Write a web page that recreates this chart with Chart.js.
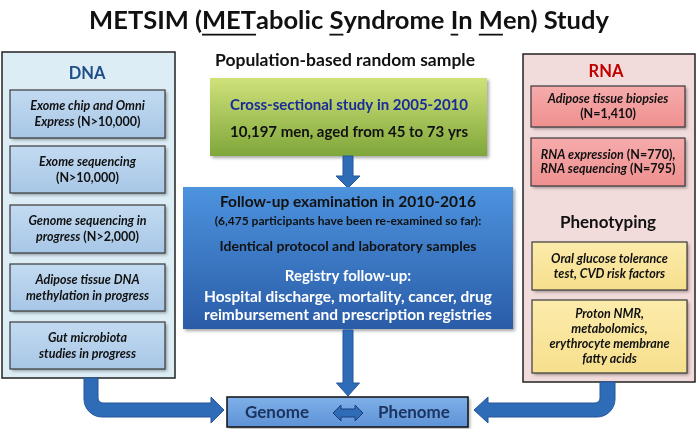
<!DOCTYPE html>
<html><head><meta charset="UTF-8">
<title>METSIM Study</title>
<script src="https://cdn.jsdelivr.net/npm/chart.js"></script>
<style>body{margin:0;background:#fff}canvas{display:block}</style>
</head><body>
<canvas id="c" width="697" height="429"></canvas>
<script>
// texts of the diagram (runs: [text, 'i' = bold italic, 'b' = bold, 'u' = underlined])
const title = [['METSIM (', 'b'], ['MET', 'u'], ['abolic ', 'b'], ['S', 'u'], ['yndrome ', 'b'], ['I', 'u'], ['n ', 'b'], ['M', 'u'], ['en) Study', 'b']];
const dnaHeading = 'DNA';
const dnaItems = [
  [[['Exome chip and Omni', 'i']], [['Express', 'i'], [' (N>10,000)', 'b']]],
  [[['Exome sequencing', 'i']], [['(N>10,000)', 'b']]],
  [[['Genome sequencing in', 'i']], [['progress', 'i'], [' (N>2,000)', 'b']]],
  [[['Adipose tissue DNA', 'i']], [['methylation in progress', 'i']]],
  [[['Gut microbiota', 'i']], [['studies in progress', 'i']]]
];
const rnaHeading = 'RNA';
const rnaItems = [
  [[['Adipose tissue biopsies', 'i']], [['(N=1,410)', 'b']]],
  [[['RNA expression', 'i'], [' (N=770),', 'b']], [['RNA sequencing', 'i'], [' (N=795)', 'b']]]
];
const phenoHeading = 'Phenotyping';
const phenoItems = [
  [[['Oral glucose tolerance', 'i']], [['test, CVD risk factors', 'i']]],
  [[['Proton NMR,', 'i']], [['metabolomics,', 'i']], [['erythrocyte membrane', 'i']], [['fatty acids', 'i']]]
];
const sampleLabel = 'Population-based random sample';
const crossLines = ['Cross-sectional study in 2005-2010', '10,197 men, aged from 45 to 73 yrs'];
const followLines = ['Follow-up examination in 2010-2016', '(6,475 participants have been re-examined so far):',
  'Identical protocol and laboratory samples', 'Registry follow-up:',
  'Hospital discharge, mortality, cancer, drug', 'reimbursement and prescription registries'];
const outcome = ['Genome', 'Phenome'];

// layout in diagram units (same as the page pixels)
const layout = {
  dnaPanel: [2, 52, 175, 378], dnaBoxes: [[10, 90, 165, 138], [10, 146, 165, 193], [10, 205, 165, 253], [10, 264, 165, 311], [10, 322, 165, 369]],
  rnaPanel: [523, 54, 695, 382], rnaBoxes: [[531, 86, 685, 127], [531, 138, 685, 186]],
  phenoBoxes: [[532, 242, 687, 290], [532, 300, 687, 373]],
  cross: [210, 78, 487, 156], follow: [183, 187, 513, 329], genome: [227, 397, 468, 427]
};
const F = 'Lato, "Open Sans", sans-serif';

const diagram = {
  id: 'diagram',
  afterDraw(chart) {
    const ctx = chart.ctx, xs = chart.scales.x, ys = chart.scales.y;
    const X = v => xs.getPixelForValue(v), Y = v => ys.getPixelForValue(v);

    function box(r, fill, stroke, lw, shadow) {
      const [x0, y0, x1, y1] = r;
      ctx.save();
      if (Array.isArray(fill)) {
        const g = ctx.createLinearGradient(0, Y(y0), 0, Y(y1));
        g.addColorStop(0, fill[0]); g.addColorStop(1, fill[1]);
        ctx.fillStyle = g;
      } else ctx.fillStyle = fill;
      if (shadow) { ctx.shadowColor = 'rgba(0,0,0,0.35)'; ctx.shadowBlur = 3; ctx.shadowOffsetX = 2; ctx.shadowOffsetY = 2; }
      ctx.fillRect(X(x0), Y(y0), X(x1) - X(x0), Y(y1) - Y(y0));
      ctx.restore();
      if (stroke) {
        ctx.strokeStyle = stroke; ctx.lineWidth = lw || 1;
        ctx.strokeRect(X(x0), Y(y0), X(x1) - X(x0), Y(y1) - Y(y0));
      }
    }
    function fontFor(st, size) { return (st === 'i' ? 'italic bold ' : 'bold ') + size + 'px ' + F; }
    function runs(line, cx, cy, size, color) {
      ctx.textBaseline = 'middle'; ctx.textAlign = 'left'; ctx.fillStyle = color;
      let w = 0;
      line.forEach(([t, st]) => { ctx.font = fontFor(st, size); w += ctx.measureText(t).width; });
      let x = X(cx) - w / 2;
      line.forEach(([t, st]) => {
        ctx.font = fontFor(st, size);
        const tw = ctx.measureText(t).width;
        ctx.fillText(t, x, Y(cy));
        if (st === 'u') { ctx.fillRect(x, Y(cy) + size * 0.5, tw, Math.max(1.5, size * 0.07)); }
        x += tw;
      });
    }
    function text(t, cx, cy, size, color) { runs([[t, 'b']], cx, cy, size, color); }
    function itemBox(r, lines, fill, size, lh) {
      box(r, fill, '#3a3a3a', 1.2, true);
      const cx = (r[0] + r[2]) / 2, cy = (r[1] + r[3]) / 2;
      lines.forEach((l, i) => runs(l, cx, cy + (i - (lines.length - 1) / 2) * lh, size, '#111'));
    }
    function poly(pts, fill, stroke) {
      ctx.beginPath();
      pts.forEach(([x, y], i) => i ? ctx.lineTo(X(x), Y(y)) : ctx.moveTo(X(x), Y(y)));
      ctx.closePath(); ctx.fillStyle = fill; ctx.fill();
      if (stroke) { ctx.strokeStyle = stroke; ctx.lineWidth = 1; ctx.stroke(); }
    }
    function downArrow(cx, y0, y1, sw, hw, hl) {
      poly([[cx - sw / 2, y0], [cx + sw / 2, y0], [cx + sw / 2, y1 - hl], [cx + hw / 2, y1 - hl], [cx, y1],
        [cx - hw / 2, y1 - hl], [cx - sw / 2, y1 - hl]], '#2f6cb8', '#25569a');
    }
    const arrowFill = '#2f6cb8', arrowLine = '#25569a';

    // title
    runs(title, 349, 21, 25.5, '#111');

    // DNA panel
    box(layout.dnaPanel, '#dcedf5', '#222', 1.5);
    text(dnaHeading, 87, 74, 16.5, '#1f4e87');
    layout.dnaBoxes.forEach((r, i) => itemBox(r, dnaItems[i], ['#c3dbf1', '#a7c6e6'], 12.5, 16));

    // RNA / phenotyping panel
    box(layout.rnaPanel, '#f2dcdb', '#222', 1.5);
    text(rnaHeading, 606, 72, 16.5, '#c00000');
    layout.rnaBoxes.forEach((r, i) => itemBox(r, rnaItems[i], ['#f6abab', '#ef9090'], 12.5, 14.5));
    text(phenoHeading, 608, 223, 17, '#111');
    layout.phenoBoxes.forEach((r, i) => itemBox(r, phenoItems[i], ['#fcebab', '#f6df8d'], 12.5, 15));

    // centre column
    text(sampleLabel, 345, 60, 17.5, '#111');
    box(layout.cross, ['#cfe27a', '#7fa63a'], null, 0, true);
    text(crossLines[0], 349, 105, 15, '#1b2a9a');
    text(crossLines[1], 349, 132, 15, '#111');
    downArrow(348, 156, 188, 10, 24, 12);

    box(layout.follow, ['#4d93de', '#2a5ca8'], null, 0, true);
    const fy = [202, 221, 246, 276, 297, 315], fs = [15.5, 12, 14, 15, 15.5, 15.5];
    followLines.forEach((t, i) => text(t, 348, fy[i], fs[i], i < 3 ? '#111' : '#fff'));
    downArrow(348, 330, 396, 10, 23, 13);

    // elbow arrows into the outcome box
    ctx.fillStyle = arrowFill; ctx.strokeStyle = arrowLine; ctx.lineWidth = 1;
    ctx.beginPath();
    ctx.moveTo(X(84), Y(378)); ctx.arcTo(X(84), Y(417), X(211), Y(417), 18);
    ctx.lineTo(X(211), Y(417)); ctx.lineTo(X(211), Y(423)); ctx.lineTo(X(224), Y(410));
    ctx.lineTo(X(211), Y(397)); ctx.lineTo(X(211), Y(403)); ctx.arcTo(X(98), Y(403), X(98), Y(378), 5);
    ctx.lineTo(X(98), Y(378)); ctx.closePath(); ctx.fill(); ctx.stroke();
    ctx.beginPath();
    ctx.moveTo(X(615), Y(382)); ctx.arcTo(X(615), Y(417), X(488), Y(417), 18);
    ctx.lineTo(X(488), Y(417)); ctx.lineTo(X(488), Y(423)); ctx.lineTo(X(474), Y(410));
    ctx.lineTo(X(488), Y(397)); ctx.lineTo(X(488), Y(403)); ctx.arcTo(X(600), Y(403), X(600), Y(382), 5);
    ctx.lineTo(X(600), Y(382)); ctx.closePath(); ctx.fill(); ctx.stroke();

    // outcome box
    box(layout.genome, ['#7fb0e8', '#5d92d6'], '#111', 1.5, true);
    text(outcome[0], 277, 413, 17, '#1c3560');
    text(outcome[1], 414, 413, 17, '#1c3560');
    poly([[333, 413], [341, 405], [341, 409], [355, 409], [355, 405], [363, 413], [355, 421], [355, 417], [341, 417], [341, 421]],
      arrowFill, '#1c3f7a');
  }
};

new Chart(document.getElementById('c'), {
  type: 'scatter',
  data: { datasets: [{ data: [] }] },
  options: {
    responsive: false, animation: false,
    layout: { padding: 0 },
    plugins: { legend: { display: false }, tooltip: { enabled: false } },
    scales: {
      x: { type: 'linear', min: 0, max: 697, display: false },
      y: { type: 'linear', min: 0, max: 429, reverse: true, display: false }
    }
  },
  plugins: [diagram]
});
</script>
</body></html>
